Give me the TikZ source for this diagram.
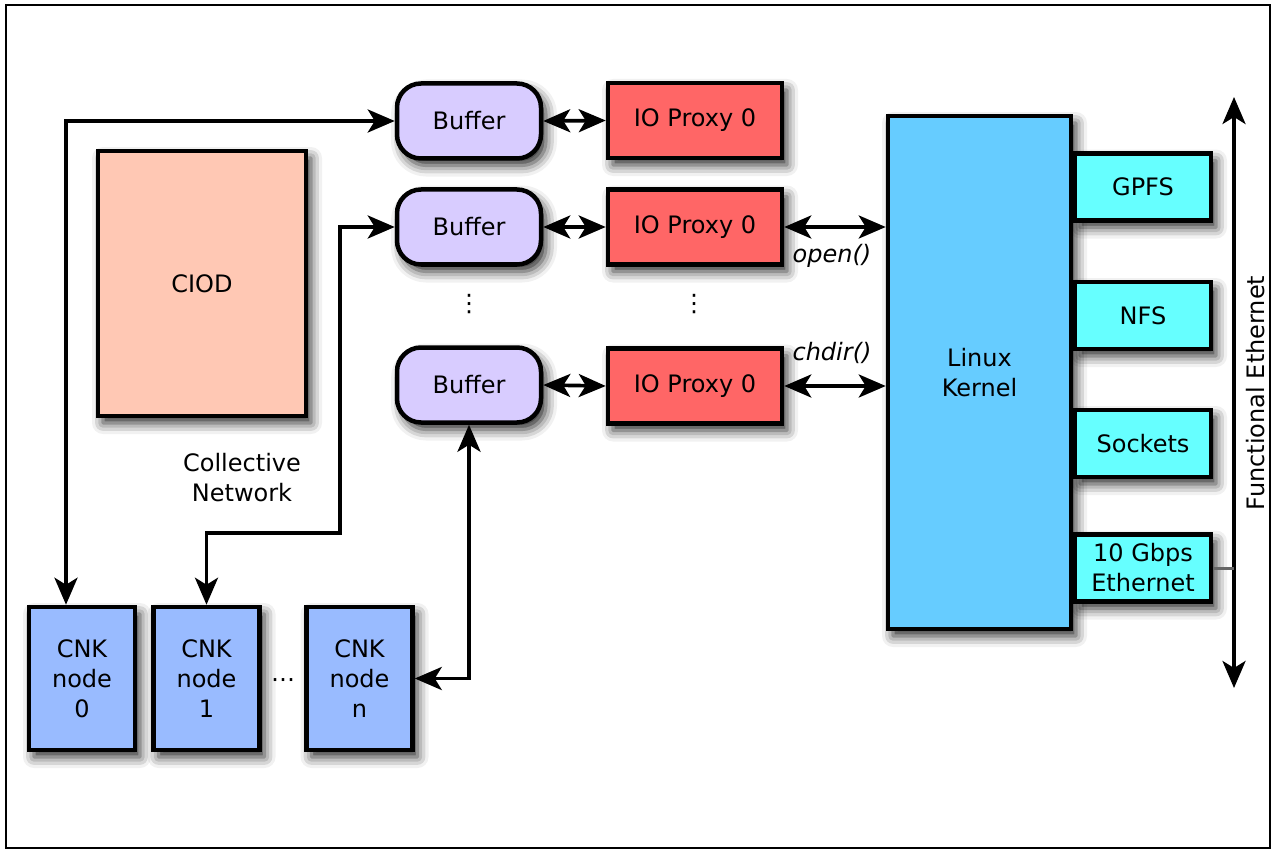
\documentclass[tikz,border=0pt]{standalone}
\usepackage{fontspec}
\setmainfont{DejaVu Sans}
\usetikzlibrary{arrows.meta,shadows.blur,calc}

\definecolor{ciodfill}{HTML}{FFC8B4}
\definecolor{bufferfill}{HTML}{D8CCFF}
\definecolor{proxyfill}{HTML}{FF6666}
\definecolor{cnkfill}{HTML}{99BBFF}
\definecolor{kernelfill}{HTML}{66CCFF}
\definecolor{fsfill}{HTML}{66FFFF}

\tikzset{
  box/.style={draw=black, line width=4.5pt, inner sep=0pt, align=center,
    blur shadow={shadow xshift=5pt, shadow yshift=-7pt,
                 shadow blur radius=11pt, shadow opacity=85}},
  ciodbox/.style={box, fill=ciodfill, minimum width=208pt, minimum height=265pt},
  bufferbox/.style={box, fill=bufferfill, rounded corners=24pt,
                    minimum width=144pt, minimum height=75pt},
  proxybox/.style={box, fill=proxyfill, minimum width=174pt, minimum height=75pt},
  cnkbox/.style={box, fill=cnkfill, minimum width=106pt, minimum height=143pt},
  kernelbox/.style={box, fill=kernelfill, minimum width=183pt, minimum height=513pt},
  fsbox/.style={box, fill=fsfill, minimum width=136pt, minimum height=67pt},
  link/.style={line width=3.7pt,
    {Stealth[length=27pt,width=23pt,inset=7pt]}-{Stealth[length=27pt,width=23pt,inset=7pt]}},
  label/.style={align=center, inner sep=0pt}
}

\begin{document}
\begin{tikzpicture}[x=1pt, y=-1pt, font=\fontsize{24}{30}\selectfont]
  \useasboundingbox (0,0) rectangle (1276,850);
  \draw[line width=1.2pt] (6,5) rectangle (1270,848);

  % daemon
  \node[ciodbox] (ciod) at (202,283.5) {CIOD};

  % buffers and proxies
  \node[bufferbox] (b1) at (469,121) {Buffer};
  \node[bufferbox] (b2) at (469,227) {Buffer};
  \node[bufferbox] (b3) at (469,385) {Buffer};
  \node[proxybox] (p1) at (695,120.5) {IO Proxy 0};
  \node[proxybox] (p2) at (695,227) {IO Proxy 0};
  \node[proxybox] (p3) at (695,386) {IO Proxy 0};
  \node[label] (vd1) at (469,304) {⋮};
  \node[label] (vd2) at (694,304) {⋮};

  % kernel and services
  \node[kernelbox] (kern) at (979.5,372.5) {Linux\\Kernel};
  \node[fsbox] (gpfs) at (1143,187) {GPFS};
  \node[fsbox] (nfs) at (1143,315.5) {NFS};
  \node[fsbox] (sock) at (1143,443.5) {Sockets};
  \node[fsbox] (eth) at (1143,568) {10 Gbps\\Ethernet};

  % compute nodes
  \node[cnkbox] (c0) at (82,678.5) {CNK\\node\\0};
  \node[cnkbox] (c1) at (206.5,678.5) {CNK\\node\\1};
  \node[cnkbox] (cn) at (359.5,678.5) {CNK\\node\\n};
  \node[label] (hd) at (283,683) {⋯};

  \node[label] (coll) at (242,478) {Collective\\Network};

  % collective network links
  \draw[link] ([xshift=-16pt]c0.north) |- (b1.west);
  \coordinate (k1) at (340,533);
  \draw[link] (b2.west) -| (k1) -| (c1.north);
  \draw[link] (b3.south) |- (cn.east);

  % buffer to proxy
  \draw[link] (b1.east) -- (p1.west);
  \draw[link] (b2.east) -- (p2.west);
  \draw[link] (b3.east) -- (p3.west);

  % system calls
  \draw[link] (p2.east) -- (p2.east -| kern.west);
  \draw[link] (p3.east) -- (p3.east -| kern.west);
  \node[label, font=\fontsize{24}{30}\selectfont\itshape] (op) at (832,256) {open()};
  \node[label, font=\fontsize{24}{30}\selectfont\itshape] (cd) at (832,353) {chdir()};

  % functional ethernet
  \coordinate (et) at (1234,97);
  \coordinate (eb) at (1234,688);
  \draw[link] (et) -- (eb);
  \draw[line width=3pt, black!60] (eth.east) -- (eth.east -| et);
  \node[label, rotate=90] (fe) at (1256,393) {Functional Ethernet};
\end{tikzpicture}
\end{document}
